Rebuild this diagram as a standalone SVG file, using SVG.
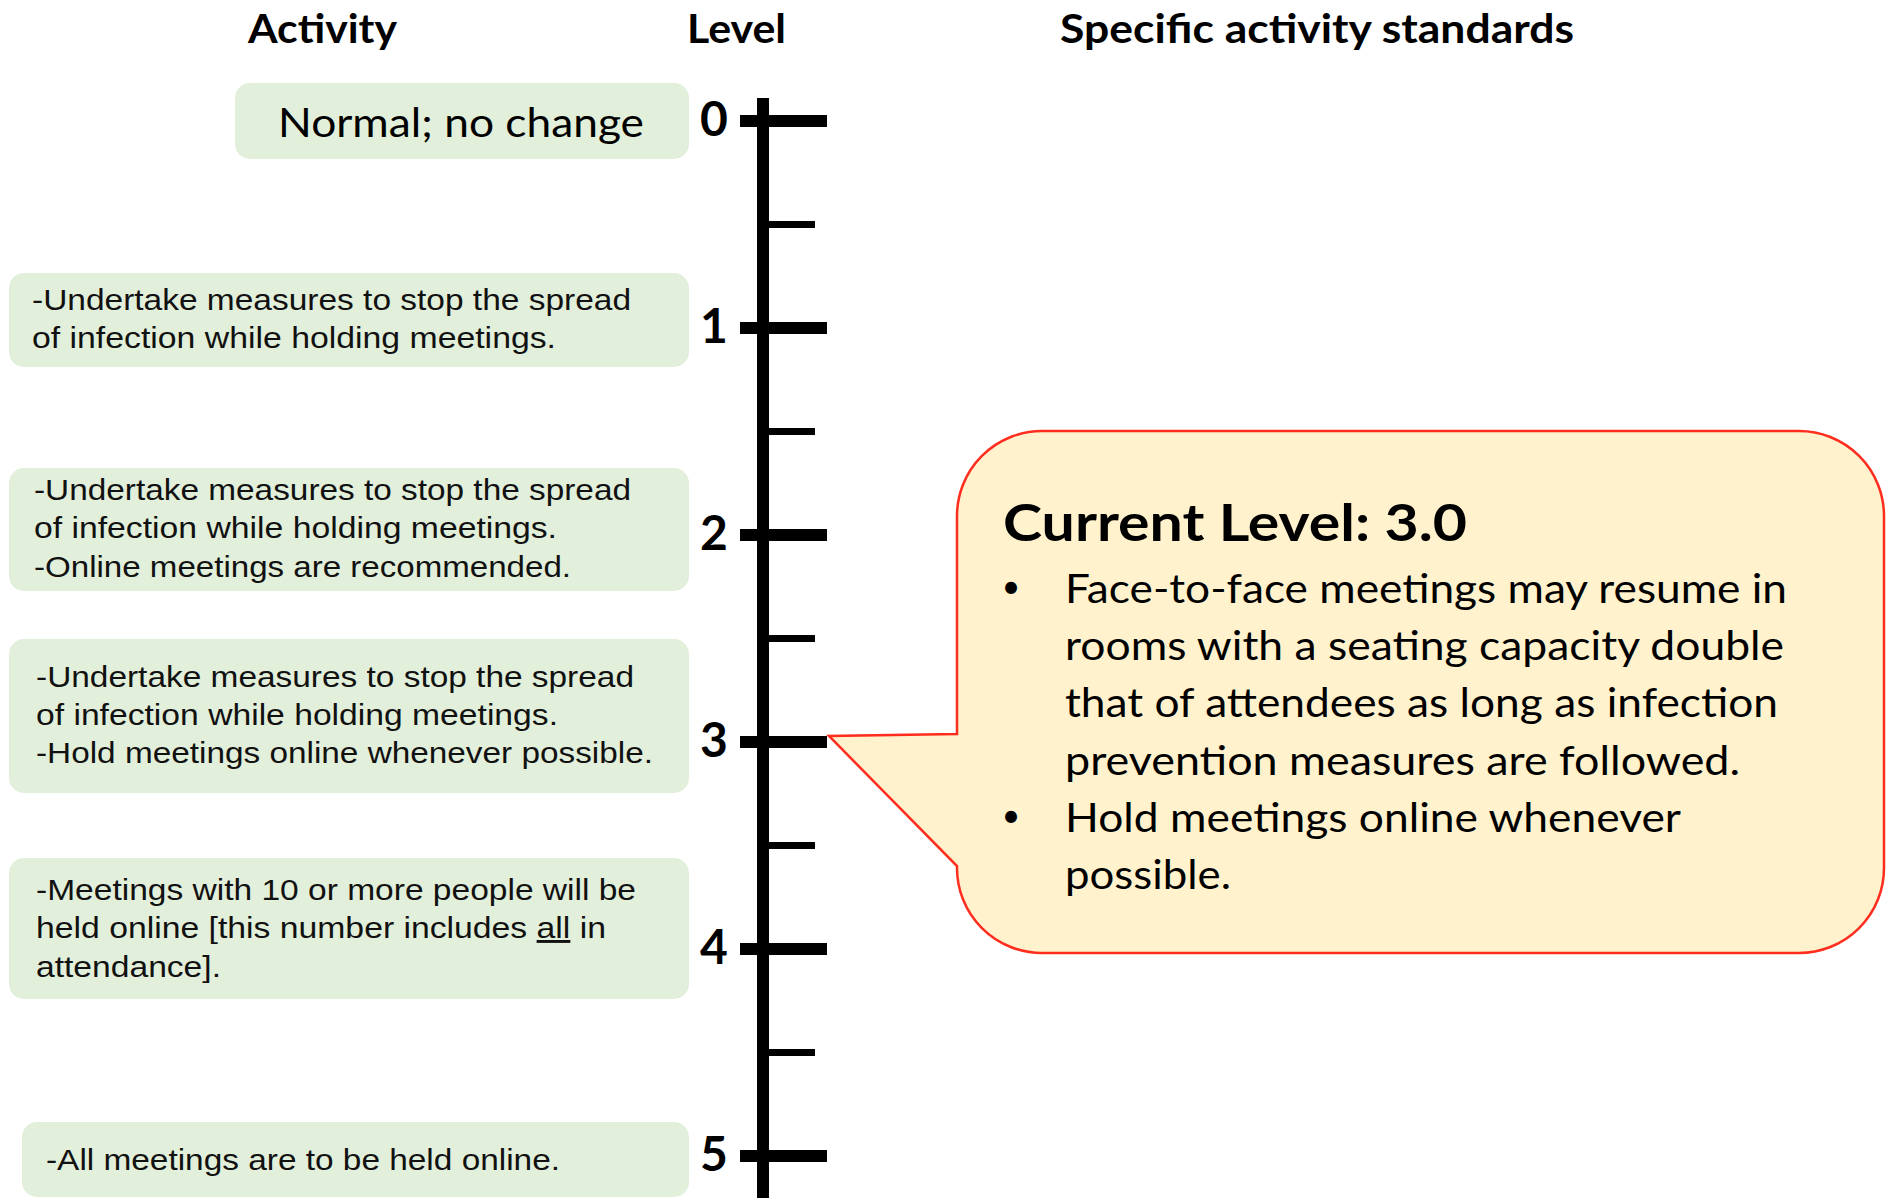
<svg xmlns="http://www.w3.org/2000/svg" width="1887" height="1198" viewBox="0 0 1887 1198">
<style>
.hdr{font-family:Lato,"Liberation Sans",sans-serif;font-weight:bold;font-size:40px;fill:#000}
.box{fill:#E2EFDA}
.bt{font-family:"Liberation Sans",Arial,sans-serif;font-size:29px;fill:#111}
.num{font-family:Lato,"Liberation Sans",sans-serif;font-weight:bold;font-size:48px;fill:#000;text-anchor:middle}
.ct{font-family:Lato,"Liberation Sans",sans-serif;font-size:40px;fill:#000}
.bul{font-family:Lato,"Liberation Sans",sans-serif;font-size:32px;fill:#000;text-anchor:middle}
.major{stroke:#000;stroke-width:12}
.minor{stroke:#000;stroke-width:7}
</style>
<rect width="1887" height="1198" fill="#fff"/>
<g id="headers">
<text class="hdr" x="248" y="43" textLength="149" lengthAdjust="spacingAndGlyphs">Activity</text>
<text class="hdr" x="687" y="43" textLength="99" lengthAdjust="spacingAndGlyphs">Level</text>
<text class="hdr" x="1060" y="43" textLength="514" lengthAdjust="spacingAndGlyphs">Specific activity standards</text>
</g>
<g id="connectors">
<line x1="763" y1="98" x2="763" y2="1198" stroke="#000" stroke-width="12"/>
<line class="major" x1="740" y1="121" x2="827" y2="121"/>
<line class="major" x1="740" y1="328" x2="827" y2="328"/>
<line class="major" x1="740" y1="535" x2="827" y2="535"/>
<line class="major" x1="740" y1="742" x2="827" y2="742"/>
<line class="major" x1="740" y1="949" x2="827" y2="949"/>
<line class="major" x1="740" y1="1156" x2="827" y2="1156"/>
<line class="minor" x1="768" y1="224.5" x2="815" y2="224.5"/>
<line class="minor" x1="768" y1="431.5" x2="815" y2="431.5"/>
<line class="minor" x1="768" y1="638.5" x2="815" y2="638.5"/>
<line class="minor" x1="768" y1="845.5" x2="815" y2="845.5"/>
<line class="minor" x1="768" y1="1052.5" x2="815" y2="1052.5"/>
</g>
<g id="level-numbers">
<text class="num" x="714" y="136">0</text>
<text class="num" x="714" y="343">1</text>
<text class="num" x="714" y="550">2</text>
<text class="num" x="714" y="757">3</text>
<text class="num" x="714" y="964">4</text>
<text class="num" x="714" y="1171">5</text>
</g>
<g id="level0">
<rect class="box" x="235" y="83" width="454" height="76" rx="15"/>
<text class="ct" x="278" y="137" style="font-size:41px" textLength="366" lengthAdjust="spacingAndGlyphs">Normal; no change</text>
</g>
<g id="level1">
<rect class="box" x="9" y="273" width="680" height="94" rx="15"/>
<text class="bt" x="32" y="310" textLength="599" lengthAdjust="spacingAndGlyphs">-Undertake measures to stop the spread</text>
<text class="bt" x="32" y="348" textLength="524" lengthAdjust="spacingAndGlyphs">of infection while holding meetings.</text>
</g>
<g id="level2">
<rect class="box" x="9" y="468" width="680" height="123" rx="15"/>
<text class="bt" x="34" y="500" textLength="597" lengthAdjust="spacingAndGlyphs">-Undertake measures to stop the spread</text>
<text class="bt" x="34" y="538" textLength="523" lengthAdjust="spacingAndGlyphs">of infection while holding meetings.</text>
<text class="bt" x="34" y="577" textLength="537" lengthAdjust="spacingAndGlyphs">-Online meetings are recommended.</text>
</g>
<g id="level3">
<rect class="box" x="9" y="639" width="680" height="154" rx="15"/>
<text class="bt" x="36" y="687" textLength="598" lengthAdjust="spacingAndGlyphs">-Undertake measures to stop the spread</text>
<text class="bt" x="36" y="725" textLength="522" lengthAdjust="spacingAndGlyphs">of infection while holding meetings.</text>
<text class="bt" x="36" y="763" textLength="617" lengthAdjust="spacingAndGlyphs">-Hold meetings online whenever possible.</text>
</g>
<g id="level4">
<rect class="box" x="9" y="858" width="680" height="141" rx="15"/>
<text class="bt" x="36" y="900" textLength="600" lengthAdjust="spacingAndGlyphs">-Meetings with 10 or more people will be</text>
<text class="bt" x="36" y="938" textLength="570" lengthAdjust="spacingAndGlyphs">held online [this number includes <tspan text-decoration="underline">all</tspan> in</text>
<text class="bt" x="36" y="977" textLength="185" lengthAdjust="spacingAndGlyphs">attendance].</text>
</g>
<g id="level5">
<rect class="box" x="22" y="1122" width="667" height="75" rx="15"/>
<text class="bt" x="46" y="1170" textLength="514" lengthAdjust="spacingAndGlyphs">-All meetings are to be held online.</text>
</g>
<g id="callout">
<path d="M 1042,431 H 1799 A 85 85 0 0 1 1884,516 V 868 A 85 85 0 0 1 1799,953 H 1042 A 85 85 0 0 1 957,868 V 866 L 829,736 L 957,734 V 516 A 85 85 0 0 1 1042,431 Z" fill="#FFF2CC" stroke="#FF2D1E" stroke-width="2.5" stroke-linejoin="miter"/>
<text class="ct" x="1003" y="541" style="font-weight:bold;font-size:52px" textLength="464" lengthAdjust="spacingAndGlyphs">Current Level: 3.0</text>
<text class="bul" x="1011" y="598">•</text>
<text class="ct" x="1065" y="603" textLength="722" lengthAdjust="spacingAndGlyphs">Face-to-face meetings may resume in</text>
<text class="ct" x="1065" y="660" textLength="719" lengthAdjust="spacingAndGlyphs">rooms with a seating capacity double</text>
<text class="ct" x="1065" y="717" textLength="713" lengthAdjust="spacingAndGlyphs">that of attendees as long as infection</text>
<text class="ct" x="1065" y="775" textLength="675" lengthAdjust="spacingAndGlyphs">prevention measures are followed.</text>
<text class="bul" x="1011" y="827">•</text>
<text class="ct" x="1065" y="832" textLength="616" lengthAdjust="spacingAndGlyphs">Hold meetings online whenever</text>
<text class="ct" x="1065" y="889" textLength="166" lengthAdjust="spacingAndGlyphs">possible.</text>
</g>
</svg>
